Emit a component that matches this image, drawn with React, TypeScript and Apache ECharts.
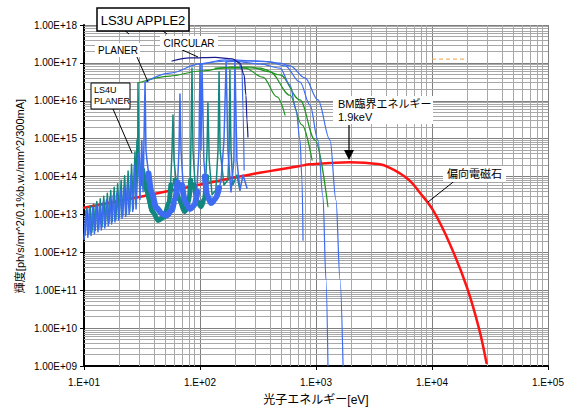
import React, { useEffect, useRef } from "react";
import * as echarts from "echarts";

const FONT = "'Liberation Sans', 'Noto Sans CJK JP', sans-serif";

// ---- data (photon energy [eV], brightness) ----
const bendingMagnet = [
  [10, 1.5e13], [30, 2.9e13], [82, 5.4e13], [300, 1.2e14], [728, 1.9e14],
  [888, 2.1e14], [1960, 2.4e14], [3550, 2.1e14], [4340, 1.7e14], [5250, 1.23e14],
  [6450, 7.7e13], [7900, 3.7e13], [10200, 1.3e13], [14100, 1.8e12],
  [20000, 1.2e11], [25600, 9e9], [29500, 1.2e9],
];

const blueTeeth = [
  [10.0, 2.2e12], [10.4, 1.3e13], [10.8, 2.5e12], [11.1, 1.4e13], [11.5, 2.8e12], [11.9, 1.55e13],
  [12.3, 3.1e12], [12.7, 1.7e13], [13.2, 3.5e12], [13.6, 1.9e13], [14.1, 3.9e12], [14.6, 2.1e13],
  [15.1, 4.4e12], [15.6, 2.4e13], [16.2, 5.0e12], [16.7, 2.8e13], [17.3, 5.6e12], [17.9, 3.2e13],
  [18.5, 6.3e12], [19.2, 3.7e13], [19.9, 7.0e12], [20.6, 4.3e13], [21.3, 7.8e12], [22.1, 5.2e13],
  [22.9, 8.8e12], [23.7, 7e13], [24.5, 1.0e13], [25.4, 1.1e14], [26.3, 1.2e13], [27.2, 2e14],
  [28.1, 1.4e13],
];
const blueMid = [
  [29.5, 4e14], [30.4, 2.5e13], [31.5, 9e14], [32.3, 4e13], [33.6, 3.1e16], [34.2, 5e14],
  [34.9, 2.7e14], [38.5, 2.4e13], [45.2, 1.03e13], [52, 8.1e12], [58.5, 1.3e13], [63.4, 3.1e13],
  [65.9, 5e14], [67.2, 1.5e16], [68.6, 5e14], [72.8, 2.4e13], [82, 1.3e13], [92.4, 1.8e13],
  [98, 5e14], [100, 9.4e16], [102, 5e14], [104, 9.4e16], [108, 2.7e14], [115, 2.4e13],
  [127, 1.8e13], [140, 2.7e13], [152, 8.1e13], [161, 9.2e14], [168, 1.06e17], [174, 5e14],
  [185, 3.9e13], [196, 2.7e14], [200, 1.2e17], [208, 2.7e14], [221, 4.4e13], [235, 1.1e14],
  [254, 5e13],
];
const blueBand1 = [[36, 1.2e14], [38.5, 3.5e13], [42, 1.5e13], [47, 1.05e13], [52, 9.5e12], [57, 1.3e13], [61, 2.5e13], [64, 7e13]];
const blueBand2 = [[70, 6e13], [75, 2e13], [82, 1.4e13], [89, 1.7e13], [95, 4e13]];
const blueBand3 = [[110, 1e14], [116, 3e13], [125, 2e13], [136, 2.6e13], [146, 5e13]];

const tealTeeth = [
  [10.2, 2.8e12], [10.6, 1.5e13], [11.0, 3.1e12], [11.3, 1.7e13], [11.7, 3.4e12], [12.1, 1.9e13],
  [12.5, 3.8e12], [12.9, 2.2e13], [13.4, 4.2e12], [13.8, 2.6e13], [14.3, 4.7e12], [14.8, 3.0e13],
  [15.3, 5.2e12], [15.9, 3.6e13], [16.4, 5.8e12], [17.0, 4.3e13], [17.5, 6.5e12], [18.2, 5.2e13],
  [18.8, 7.3e12], [19.5, 6.5e13], [20.2, 8.2e12], [20.9, 8e13], [21.6, 9.3e12], [22.4, 1.05e14],
  [23.2, 1.05e13], [24.0, 1.4e14], [24.8, 1.2e13], [25.7, 2.1e14], [26.6, 1.4e13], [27.5, 4.5e14],
  [28.0, 2e13],
];
const tealMid = [
  [28.6, 9.2e14], [29.0, 1e14], [29.2, 2.95e16], [29.8, 4e14], [31.5, 6e13], [33.6, 4.4e13],
  [37.1, 1.3e13], [43.5, 6.3e12], [49.9, 8.1e12], [55.1, 2.4e13], [57.4, 5e14], [58.5, 4.2e15],
  [59.7, 2.7e14], [64.6, 2.4e13], [74.2, 1.1e13], [82, 2.4e13], [83.6, 9.2e14], [85.3, 7.3e16],
  [87, 5e14], [92.4, 2.4e13], [100, 1.5e13], [110, 2.4e13], [115, 5e14], [117, 8.7e15],
  [120, 2.7e14], [127, 3.3e13], [137, 4.4e13], [143, 5e14], [146, 5.8e16], [149, 5e14],
  [161, 6e13], [174, 8.1e13], [178, 5e14], [181, 6.5e16], [185, 5e14], [192, 6e13],
  [208, 1.1e14], [221, 4.4e13],
];
const tealBand1 = [[32, 1.5e14], [35, 4e13], [39, 1.2e13], [43.5, 7e12], [49, 8.5e12], [54, 2e13], [56, 6e13]];
const tealBand2 = [[61, 8e13], [66, 2.5e13], [74, 1.2e13], [80, 2e13], [83, 8e13]];
const tealBand3 = [[89, 6e13], [95, 2.2e13], [102, 1.6e13], [109, 2.5e13], [114, 1e14]];

const blueTune1 = [[33.6, 3.1e16], [55.1, 5.4e16], [100, 9.4e16], [164, 1.2e17], [213, 1.12e17], [230, 6.5e16], [235, 5.7e15], [240, 1.5e14]];
const blueTune2 = [[100, 9.4e16], [181, 1.12e17], [329, 9.4e16], [490, 7.3e16], [597, 2.6e16], [673, 5.7e15], [728, 9.2e14], [757, 8.1e13], [773, 2.1e12]];
const blueTune3 = [[168, 1.06e17], [270, 1.12e17], [401, 1.06e17], [541, 8.3e16], [728, 3.1e16], [888, 7.7e15], [1040, 9.2e14], [1148, 2.9e13], [1219, 1.9e11], [1268, 1e9]];
const blueTune4 = [[200, 1.2e17], [329, 1.12e17], [490, 9.9e16], [597, 8.3e16], [804, 4e16], [1040, 1.05e16], [1321, 9.2e14], [1487, 2.4e13], [1611, 1.9e11], [1711, 1e9]];

const greenTune1 = [[29.2, 2.95e16], [55.1, 4.5e16], [100, 6.1e16], [164, 7.3e16], [244, 7.3e16], [349, 4.2e16], [461, 1.26e16], [541, 4.2e15]];
const greenTune2 = [[135, 7.3e16], [270, 7.8e16], [401, 5.8e16], [597, 1.4e16], [757, 2.3e15], [925, 2.7e14]];
const greenTune3 = [[181, 7.8e16], [329, 7.3e16], [490, 4.8e16], [728, 1.05e16], [980, 9.2e14], [1268, 1.6e13]];

const circular = [[57.4, 1.12e17], [82, 1.35e17], [135, 1.4e17], [189, 1.27e17], [221, 9.9e16], [240, 4.8e16], [249, 1.4e16], [254, 3.1e15], [259, 1.1e15]];

const orangeDash = [[10000, 1.26e17], [19500, 1.26e17]];

const xDecades = [1, 2, 3, 4];
const yDecades = [9, 10, 11, 12, 13, 14, 15, 16, 17];
const minorSteps = [2, 3, 4, 5, 6, 7, 8, 9];

const Y_TITLE = "輝度[ph/s/mr^2/0.1%b.w./mm^2/300mA]";

const expLabel = (v: number, pre: string) => {
  const e = Math.round(Math.log10(v));
  return `${pre}E+${String(e).padStart(2, "0")}`;
};

const C = {
  blue: "#3d6cf2",
  teal: "#12877f",
  green: "#1f941f",
  navy: "#1b1b8c",
  red: "#ff1414",
};

export default function App() {
  const ref = useRef<HTMLDivElement>(null);
  useEffect(() => {
    document.body.style.margin = "0";
    const chart = echarts.init(ref.current!, undefined, { renderer: "svg" });
    const line = (name: string, data: number[][], color: string, width: number, z: number, smooth = false, mono = true) => ({
      type: "line",
      name,
      data,
      symbol: "none",
      showSymbol: false,
      silent: true,
      clip: true,
      z,
      smooth: smooth ? 0.35 : false,
      ...(mono ? { smoothMonotone: "x" } : {}),
      lineStyle: { color, width, cap: "round", join: "round" },
    });
    const xMinor: any[] = [];
    xDecades.forEach((d) => minorSteps.forEach((k) => xMinor.push({ xAxis: k * Math.pow(10, d) })));
    const yMinor: any[] = [];
    yDecades.forEach((d) => minorSteps.forEach((k) => yMinor.push({ yAxis: k * Math.pow(10, d) })));

    chart.setOption({
      animation: false,
      grid: { left: 84, right: 23, top: 25, bottom: 42, containLabel: false, outerBoundsMode: "none" },
      xAxis: {
        type: "log",
        logBase: 10,
        min: 10,
        max: 100000,
        name: "光子エネルギー[eV]",
        nameLocation: "middle",
        nameGap: 28,
        nameTextStyle: { fontFamily: FONT, fontSize: 12, color: "#000" },
        axisLine: { show: true, lineStyle: { color: "#000", width: 2 } },
        axisTick: { show: true, length: 4, lineStyle: { color: "#000" } },
        axisLabel: { formatter: (v: number) => expLabel(v, "1."), fontFamily: FONT, fontSize: 10, color: "#000", margin: 11 },
        splitLine: { show: true, lineStyle: { color: "#7f7f7f", width: 1 } },
      },
      yAxis: {
        type: "log",
        logBase: 10,
        min: 1e9,
        max: 1e18,
        axisLine: { show: true, lineStyle: { color: "#000", width: 2 } },
        axisTick: { show: true, length: 4, lineStyle: { color: "#000" } },
        axisLabel: { formatter: (v: number) => expLabel(v, "1.00"), fontFamily: FONT, fontSize: 10, color: "#000", margin: 7 },
        splitLine: { show: true, lineStyle: { color: "#7f7f7f", width: 1 } },
      },
      series: [
        {
          type: "line",
          data: [[10, 1e9]],
          symbol: "none",
          showSymbol: false,
          silent: true,
          z: 1,
          lineStyle: { opacity: 0 },
          markLine: {
            silent: true,
            z: 1,
            symbol: ["none", "none"],
            label: { show: false },
            lineStyle: { color: "#a8a8a8", width: 1, type: "solid" },
            data: [...xMinor, ...yMinor],
          },
        },
        line("偏向電磁石", bendingMagnet, C.red, 2.5, 10, true, false),
        line("LS4U PLANER", [...tealTeeth, ...tealMid], C.teal, 1.5, 11),
        line("LS4U band1", tealBand1, C.teal, 5, 11, true),
        line("LS4U band2", tealBand2, C.teal, 5, 11, true),
        line("LS4U band3", tealBand3, C.teal, 5, 11, true),
        line("LS3U PLANER", [...blueTeeth, ...blueMid], C.blue, 1.5, 12),
        line("LS3U band1", blueBand1, C.blue, 6, 12, true),
        line("LS3U band2", blueBand2, C.blue, 6, 12, true),
        line("LS3U band3", blueBand3, C.blue, 6, 12, true),
        line("green1", greenTune1, C.green, 1.2, 13, true),
        line("green2", greenTune2, C.green, 1.2, 13, true),
        line("green3", greenTune3, C.green, 1.2, 13, true),
        line("blue1", blueTune1, C.blue, 1.2, 14, true),
        line("blue2", blueTune2, C.blue, 1.2, 14, true),
        line("blue3", blueTune3, C.blue, 1.2, 14, true),
        line("blue4", blueTune4, C.blue, 1.2, 14, true),
        line("CIRCULAR", circular, C.navy, 1.2, 15, true),
        {
          ...line("orange", orangeDash, "#f0a040", 1, 15),
          lineStyle: { color: "#f0a040", width: 1, type: [4, 3] },
        },
      ],
      graphic: [
        { type: "text", x: 20, y: 196, rotation: Math.PI / 2, style: { text: Y_TITLE, font: `11px ${FONT}`, fill: "#000", align: "center", verticalAlign: "middle" }, z: 102 },
        { type: "line", shape: { x1: 123, y1: 29, x2: 129, y2: 34 }, style: { stroke: "#000", lineWidth: 1 }, z: 100 },
        { type: "line", shape: { x1: 160, y1: 29, x2: 167, y2: 34 }, style: { stroke: "#000", lineWidth: 1 }, z: 100 },
        { type: "rect", shape: { x: 97, y: 8, width: 92, height: 23 }, style: { fill: "#fff", stroke: "#000", lineWidth: 1.5 }, z: 101 },
        { type: "text", x: 143, y: 20, style: { text: "LS3U APPLE2", font: `13px ${FONT}`, fill: "#000", align: "center", verticalAlign: "middle" }, z: 102 },
        { type: "rect", shape: { x: 95, y: 43, width: 45, height: 14 }, style: { fill: "#fff" }, z: 101 },
        { type: "text", x: 118, y: 50, style: { text: "PLANER", font: `10px ${FONT}`, fill: "#000", align: "center", verticalAlign: "middle" }, z: 102 },
        { type: "line", shape: { x1: 137, y1: 57, x2: 148, y2: 82 }, style: { stroke: "#000", lineWidth: 1 }, z: 100 },
        { type: "rect", shape: { x: 160, y: 36, width: 58, height: 14 }, style: { fill: "#fff" }, z: 101 },
        { type: "text", x: 189, y: 43, style: { text: "CIRCULAR", font: `10px ${FONT}`, fill: "#000", align: "center", verticalAlign: "middle" }, z: 102 },
        { type: "line", shape: { x1: 178, y1: 48, x2: 198, y2: 57 }, style: { stroke: "#000", lineWidth: 1 }, z: 100 },
        { type: "line", shape: { x1: 113, y1: 109, x2: 132, y2: 153 }, style: { stroke: "#000", lineWidth: 1 }, z: 100 },
        { type: "rect", shape: { x: 91, y: 83, width: 39, height: 26 }, style: { fill: "#fff", stroke: "#000", lineWidth: 1 }, z: 101 },
        { type: "text", x: 94, y: 90, style: { text: "LS4U", font: `9px ${FONT}`, fill: "#000", align: "left", verticalAlign: "middle" }, z: 102 },
        { type: "text", x: 94, y: 101, style: { text: "PLANER", font: `9px ${FONT}`, fill: "#000", align: "left", verticalAlign: "middle" }, z: 102 },
        { type: "rect", shape: { x: 333, y: 96, width: 100, height: 28 }, style: { fill: "#fff" }, z: 101 },
        { type: "text", x: 338, y: 104, style: { text: "BM臨界エネルギー", font: `11px ${FONT}`, fill: "#000", align: "left", verticalAlign: "middle" }, z: 102 },
        { type: "text", x: 338, y: 117, style: { text: "1.9keV", font: `11px ${FONT}`, fill: "#000", align: "left", verticalAlign: "middle" }, z: 102 },
        { type: "line", shape: { x1: 349, y1: 125, x2: 349, y2: 151 }, style: { stroke: "#000", lineWidth: 1.2 }, z: 102 },
        { type: "polygon", shape: { points: [[344, 150], [354, 150], [349, 160]] }, style: { fill: "#000" }, z: 102 },
        { type: "line", shape: { x1: 457, y1: 179, x2: 428, y2: 202 }, style: { stroke: "#000", lineWidth: 1 }, z: 100 },
        { type: "rect", shape: { x: 443, y: 166, width: 63, height: 16 }, style: { fill: "#fff" }, z: 101 },
        { type: "text", x: 447, y: 174, style: { text: "偏向電磁石", font: `11px ${FONT}`, fill: "#000", align: "left", verticalAlign: "middle" }, z: 102 },
      ],
    });
    return () => chart.dispose();
  }, []);
  return <div ref={ref} style={{ position: "absolute", left: 0, top: 0, width: 571, height: 408 }} />;
}
